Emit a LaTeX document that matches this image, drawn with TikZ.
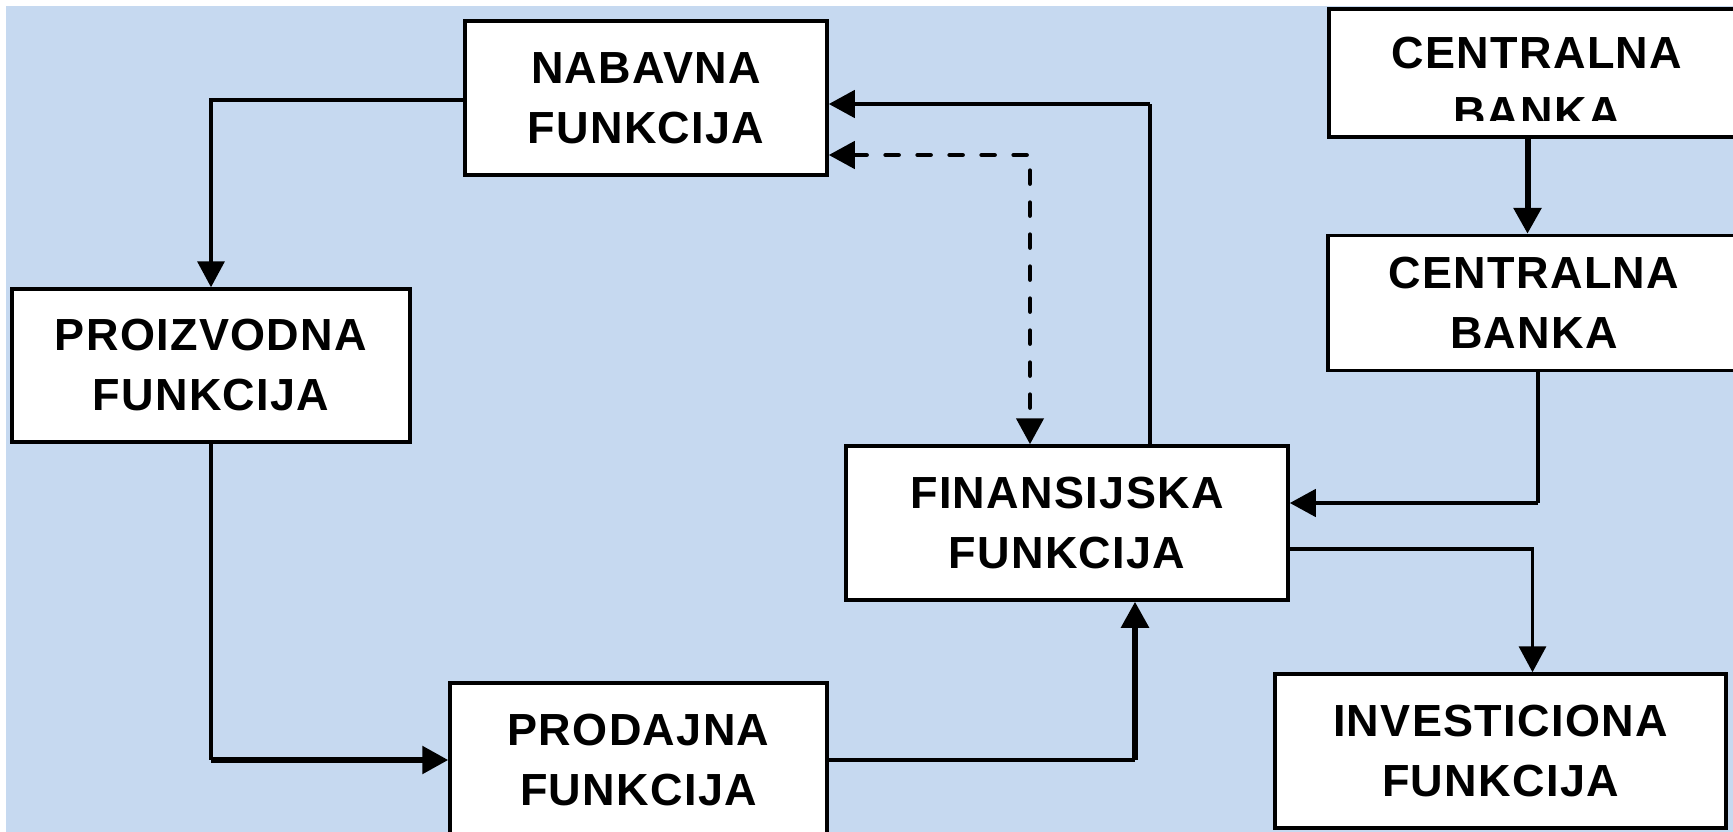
\documentclass[tikz,border=0pt]{standalone}
\usepackage{fontspec}
\usepackage{xcolor}
\newfontfamily\boxfont{Liberation Sans}[LetterSpace=3]
\usetikzlibrary{arrows.meta}
\definecolor{bgblue}{HTML}{C6D9F0}

\begin{document}
\begin{tikzpicture}[x=1pt, y=-1pt,
    funcbox/.style={rectangle, draw=black, line width=3.5pt, fill=white, inner sep=0pt, align=center,
        font=\boxfont\bfseries\fontsize{45}{60}\selectfont},
    boxtext/.style={inner sep=0pt, align=center, font=\boxfont\bfseries\fontsize{45}{60}\selectfont},
    normline/.style={line width=3.5pt},
    midline/.style={line width=4.5pt},
    boldline/.style={line width=5.5pt},
    heavyline/.style={line width=6pt},
    flow/.style={-{Triangle[length=26pt, width=27pt]}},
    twoflow/.style={{Triangle[length=26pt, width=27pt]}-{Triangle[length=26pt, width=27pt]}}
]
\useasboundingbox (0,0) rectangle (1733,832);
\fill[bgblue] (6,6) rectangle (1733,832);

\node[funcbox, minimum width=362pt, minimum height=154pt](nabavna) at (646,98){NABAVNA\\FUNKCIJA};
\node[funcbox, minimum width=398pt, minimum height=153pt](proizvodna) at (211,365.5){PROIZVODNA\\FUNKCIJA};
\node[funcbox, minimum width=377pt, minimum height=154pt](prodajna) at (638.5,760){PRODAJNA\\FUNKCIJA};
\node[funcbox, minimum width=442pt, minimum height=154pt](finansijska) at (1067,523){FINANSIJSKA\\FUNKCIJA};
\node[funcbox, minimum width=417pt, minimum height=128pt](centralna1) at (1537.5,73){};
\begin{scope}
  \clip (1331,11) rectangle (1744,121);
  \node[boxtext](centralna1text) at (1537,83){CENTRALNA\\BANKA};
\end{scope}
\node[funcbox, minimum width=412pt, minimum height=135pt](centralna2) at (1534,303){CENTRALNA\\BANKA};
\node[funcbox, minimum width=451pt, minimum height=154pt](investiciona) at (1500.5,751){INVESTICIONA\\FUNKCIJA};

% nabavna -> proizvodna
\draw[normline, flow] ([yshift=-2pt]nabavna.west) -| (proizvodna.north);

% proizvodna -> prodajna
\coordinate (cornerA) at (proizvodna.south |- prodajna.west);
\draw[normline] (proizvodna.south) -- (cornerA);
\draw[boldline, flow] (cornerA) -- (prodajna.west);

% prodajna -> finansijska
\coordinate (finIn) at ([xshift=68pt]finansijska.south);
\draw[normline] (prodajna.east) -- (finIn |- prodajna.east);
\draw[boldline, flow] (finIn |- prodajna.east) -- (finIn);

% finansijska -> nabavna
\coordinate (finTop) at ([xshift=83pt]finansijska.north);
\coordinate (nabIn) at ([yshift=-6pt]nabavna.east);
\draw[normline] (finTop) -- (finTop |- nabIn);
\draw[midline, flow] (finTop |- nabIn) -- (nabIn);

% nabavna <-> finansijska
\coordinate (nabDash) at ([yshift=-57pt]nabavna.east);
\coordinate (finDash) at ([xshift=-37pt]finansijska.north);
\draw[midline, twoflow, dash pattern=on 13pt off 19pt, line cap=round] (nabDash) -| (finDash);

% centralna banka -> centralna banka
\coordinate (cbOut) at ([xshift=-10pt]centralna1.south);
\draw[heavyline, flow] (cbOut) -- (cbOut |- centralna2.north);

% centralna banka -> finansijska
\coordinate (cb2Out) at ([xshift=4pt]centralna2.south);
\coordinate (finInR) at ([yshift=20pt]finansijska.east);
\draw[normline] (cb2Out) -- (cb2Out |- finInR);
\draw[midline, flow] (cb2Out |- finInR) -- (finInR);

% finansijska -> investiciona
\coordinate (finOutR) at ([yshift=-26pt]finansijska.east);
\coordinate (invIn) at ([xshift=32pt]investiciona.north);
\draw[normline, flow] (finOutR) -| (invIn);
\end{tikzpicture}
\end{document}
